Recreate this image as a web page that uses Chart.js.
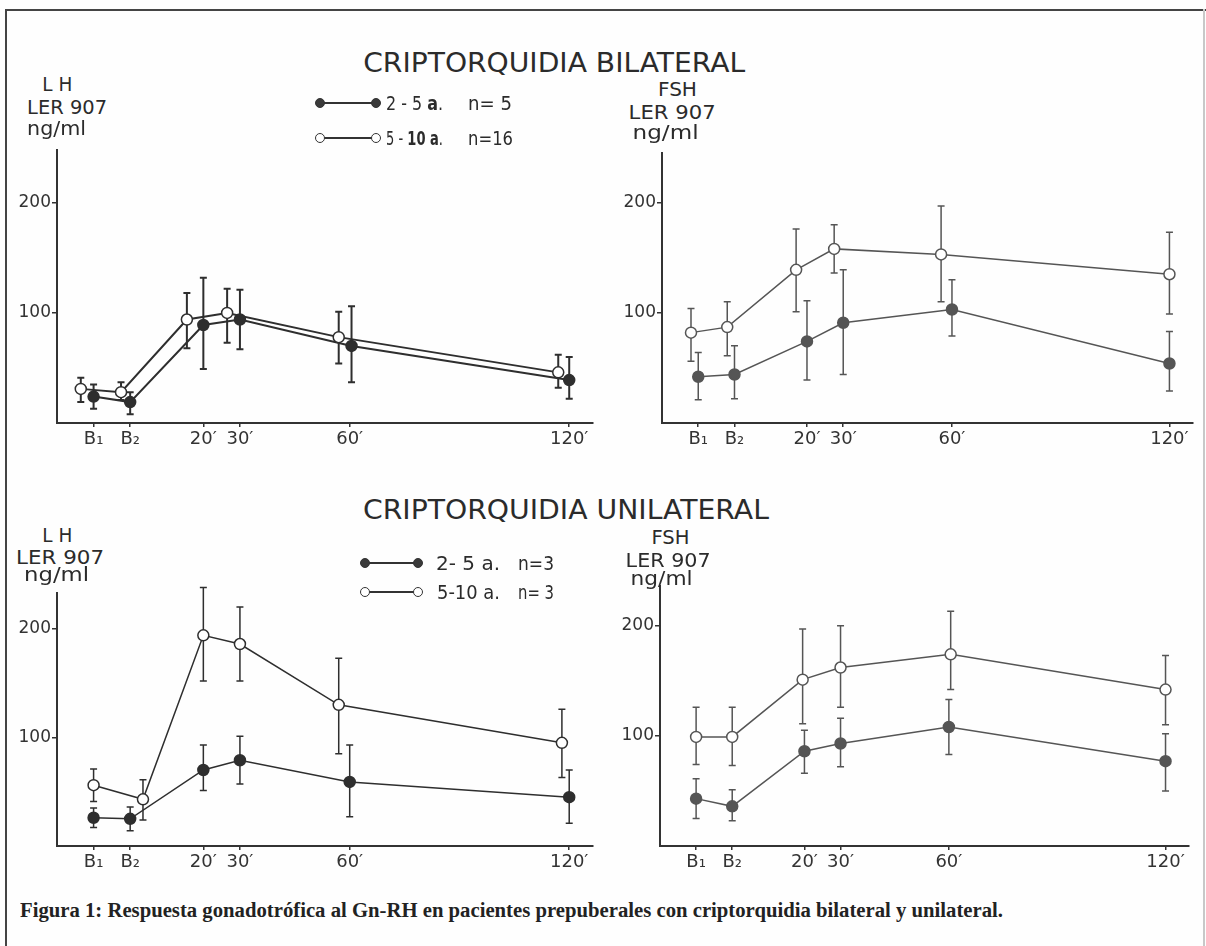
<!DOCTYPE html>
<html><head><meta charset="utf-8">
<script src="https://cdn.jsdelivr.net/npm/chart.js@4"></script>
<style>
html,body{margin:0;padding:0;background:#fff;}
#page{position:relative;width:1206px;height:946px;overflow:hidden;background:#fefefe;}
.t{position:absolute;white-space:nowrap;font-family:"DejaVu Sans",sans-serif;color:#2b2b2b;line-height:1;transform-origin:center center;}
canvas{position:absolute;}
.bar{position:absolute;}
</style></head>
<body><div id="page"></div>
<script>
// ---------- data ----------
const xTickValues = [-10, 0, 20, 30, 60, 120];
const xTickLabels = ['B\u2081', 'B\u2082', "20\u2032", "30\u2032", "60\u2032", "120\u2032"];
const yTickValues = [100, 200];

// LH bilateral
const lhBilYoungX  = [-10, 0, 20, 30, 60.5, 120];
const lhBilYoungY  = [24, 19, 89, 94, 70, 39];
const lhBilYoungHi = [35, 28, 132, 121, 106, 60];
const lhBilYoungLo = [13, 8, 49, 67, 37, 22];
const lhBilOldX    = [-13.5, -2.5, 15.5, 26.5, 57, 117];
const lhBilOldY    = [31, 28, 94, 100, 78, 46];
const lhBilOldHi   = [41, 37, 118, 122, 101, 62];
const lhBilOldLo   = [19, 21, 68, 73, 54, 32];

// FSH bilateral
const fshBilYoungX  = [-10, 0, 20, 30, 60, 120];
const fshBilYoungY  = [42, 44, 74, 91, 103, 54];
const fshBilYoungHi = [64, 70, 111, 139, 130, 83];
const fshBilYoungLo = [21, 22, 39, 44, 79, 29];
const fshBilOldX    = [-12, -2, 17, 27.5, 57, 120];
const fshBilOldY    = [82, 87, 139, 158, 153, 135];
const fshBilOldHi   = [104, 110, 176, 180, 197, 173];
const fshBilOldLo   = [56, 61, 101, 136, 110, 99];

// LH unilateral
const lhUniYoungX  = [-10, 0, 20, 30, 60, 120];
const lhUniYoungY  = [26, 25, 70, 79, 59, 45];
const lhUniYoungHi = [35, 36, 93, 101, 93, 70];
const lhUniYoungLo = [17, 14, 51, 57, 27, 21];
const lhUniOldX    = [-10, 3.5, 20, 30, 57, 118];
const lhUniOldY    = [56, 43, 194, 186, 130, 95];
const lhUniOldHi   = [71, 61, 238, 220, 173, 126];
const lhUniOldLo   = [41, 24, 152, 152, 85, 63];

// FSH unilateral
const fshUniYoungX  = [-10, 0, 20, 30, 60, 120];
const fshUniYoungY  = [43, 36, 86, 93, 108, 77];
const fshUniYoungHi = [61, 51, 105, 116, 133, 102];
const fshUniYoungLo = [25, 23, 66, 72, 83, 50];
const fshUniOldX    = [-10, 0, 19.5, 30, 60.5, 120];
const fshUniOldY    = [99, 99, 151, 162, 174, 142];
const fshUniOldHi   = [126, 126, 197, 200, 213, 173];
const fshUniOldLo   = [74, 73, 111, 126, 142, 110];

// ---------- helpers ----------
const page = document.getElementById('page');

function placeText(html, o) {
  const el = document.createElement('div');
  el.className = 't';
  el.innerHTML = html;
  el.style.fontSize = (o.size || 19) + 'px';
  if (o.family) el.style.fontFamily = o.family;
  if (o.weight) el.style.fontWeight = o.weight;
  if (o.color) el.style.color = o.color;
  page.appendChild(el);
  const r = el.getBoundingClientRect();
  const k = o.w ? o.w / r.width : 1;
  if (o.left !== undefined) {
    el.style.transformOrigin = 'left center';
    el.style.left = o.left + 'px';
  } else {
    el.style.left = (o.cx - r.width / 2) + 'px';
  }
  el.style.top = (o.cy - r.height / 2) + 'px';
  el.style.transform = 'scaleX(' + k + ')';
  return el;
}

function box(l, t, w, h, bg, extra) {
  const d = document.createElement('div');
  d.className = 'bar';
  d.style.left = l + 'px'; d.style.top = t + 'px';
  d.style.width = w + 'px'; d.style.height = h + 'px';
  d.style.background = bg;
  if (extra) Object.assign(d.style, extra);
  page.appendChild(d);
  return d;
}

function legendMarker(x1, x2, y, filled) {
  box(x1, y - 0.75, x2 - x1, 1.5, '#333');
  [x1, x2].forEach(x => {
    box(x - 5, y - 5, 10, 10, filled ? '#3a3a3a' : '#fff',
      { borderRadius: '50%', boxSizing: 'border-box', border: '1.4px solid #333' });
  });
}

const errorBarPlugin = {
  id: 'errbars',
  beforeDatasetsDraw(chart) {
    const ctx = chart.ctx, xs = chart.scales.x, ys = chart.scales.y;
    chart.data.datasets.forEach(ds => {
      ctx.save();
      ctx.strokeStyle = ds.borderColor;
      ctx.lineWidth = ds.errWidth;
      ds.data.forEach((p, i) => {
        const x = xs.getPixelForValue(p.x);
        const yh = ys.getPixelForValue(ds.errHi[i]);
        const yl = ys.getPixelForValue(ds.errLo[i]);
        ctx.beginPath();
        ctx.moveTo(x, yh); ctx.lineTo(x, yl);
        ctx.moveTo(x - 3.5, yh); ctx.lineTo(x + 3.5, yh);
        ctx.moveTo(x - 3.5, yl); ctx.lineTo(x + 3.5, yl);
        ctx.stroke();
      });
      ctx.restore();
    });
  }
};

function series(xs, ys, hi, lo, filled, color, lw) {
  return {
    data: xs.map((x, i) => ({ x: x, y: ys[i] })),
    errHi: hi, errLo: lo,
    borderColor: color,
    borderWidth: lw,
    errWidth: lw,
    pointRadius: 5.5,
    pointBorderWidth: 1.5,
    pointBackgroundColor: filled ? color : '#ffffff',
    pointBorderColor: color,
    fill: false,
    tension: 0,
    clip: false
  };
}

function makePanel(area, yMax, datasets) {
  const padL = 8, yW = 49, padT = 20, padR = 20, xH = 36, padB = 4;
  const w = area.right - area.left + padL + yW + padR;
  const h = area.bottom - area.top + padT + xH + padB;
  const c = document.createElement('canvas');
  c.width = w; c.height = h;
  c.style.left = (area.left - padL - yW) + 'px';
  c.style.top = (area.top - padT) + 'px';
  c.style.width = w + 'px'; c.style.height = h + 'px';
  page.appendChild(c);
  const axisColor = '#333';
  new Chart(c, {
    type: 'line',
    data: { datasets: datasets },
    options: {
      responsive: false, animation: false, devicePixelRatio: 1,
      layout: { padding: { left: padL, top: padT, right: padR, bottom: padB } },
      plugins: { legend: { display: false }, tooltip: { enabled: false } },
      scales: {
        x: {
          type: 'linear', min: -20, max: 126.5,
          afterBuildTicks: s => { s.ticks = xTickValues.map(v => ({ value: v })); },
          afterFit: s => { s.height = xH; },
          ticks: {
            callback: v => xTickLabels[xTickValues.indexOf(v)],
            font: { family: 'DejaVu Sans', size: 18 }, color: '#333',
            padding: 2, maxRotation: 0, autoSkip: false
          },
          grid: { drawOnChartArea: false, drawTicks: true, tickLength: 4, color: axisColor, lineWidth: 1.5 },
          border: { display: true, color: axisColor, width: 2 }
        },
        y: {
          min: 0, max: yMax,
          afterBuildTicks: s => { s.ticks = yTickValues.map(v => ({ value: v })); },
          afterFit: s => { s.width = yW; },
          ticks: { font: { family: 'DejaVu Sans', size: 17 }, color: '#333', padding: 1 },
          grid: { drawOnChartArea: false, drawTicks: true, tickLength: 5, color: axisColor, lineWidth: 1.5 },
          border: { display: true, color: axisColor, width: 2 }
        }
      }
    },
    plugins: [errorBarPlugin]
  });
}

// ---------- frame ----------
box(6, 9, 1200, 2, '#444');
box(5, 9, 2, 940, '#444');
box(1203, 9, 1.5, 940, '#c8c8c8');

// ---------- panels ----------
const dark = '#2e2e2e', gray = '#555';
makePanel({ left: 57, top: 150, right: 593, bottom: 423 }, 248, [
  series(lhBilOldX, lhBilOldY, lhBilOldHi, lhBilOldLo, false, dark, 2),
  series(lhBilYoungX, lhBilYoungY, lhBilYoungHi, lhBilYoungLo, true, dark, 2)
]);
makePanel({ left: 662, top: 153, right: 1193, bottom: 423 }, 245, [
  series(fshBilOldX, fshBilOldY, fshBilOldHi, fshBilOldLo, false, gray, 1.5),
  series(fshBilYoungX, fshBilYoungY, fshBilYoungHi, fshBilYoungLo, true, gray, 1.5)
]);
makePanel({ left: 57, top: 593, right: 593, bottom: 846 }, 233, [
  series(lhUniOldX, lhUniOldY, lhUniOldHi, lhUniOldLo, false, dark, 1.5),
  series(lhUniYoungX, lhUniYoungY, lhUniYoungHi, lhUniYoungLo, true, dark, 1.5)
]);
makePanel({ left: 660, top: 586, right: 1189, bottom: 846 }, 236, [
  series(fshUniOldX, fshUniOldY, fshUniOldHi, fshUniOldLo, false, gray, 1.5),
  series(fshUniYoungX, fshUniYoungY, fshUniYoungHi, fshUniYoungLo, true, gray, 1.5)
]);

// ---------- texts ----------
placeText('CRIPTORQUIDIA BILATERAL', { cx: 554, cy: 62, size: 27, w: 382 });
placeText('CRIPTORQUIDIA UNILATERAL', { cx: 566, cy: 509, size: 27, w: 406 });

// axis titles
placeText('L H', { cx: 57, cy: 84, size: 20, w: 30 });
placeText('LER 907', { cx: 67, cy: 107, size: 20, w: 80 });
placeText('ng/ml', { cx: 57, cy: 128, size: 20, w: 59 });

placeText('FSH', { cx: 677, cy: 89, size: 20, w: 39 });
placeText('LER 907', { cx: 672, cy: 112, size: 20, w: 87 });
placeText('ng/ml', { cx: 666, cy: 132, size: 20, w: 66 });

placeText('L H', { cx: 57, cy: 535, size: 20, w: 30 });
placeText('LER 907', { cx: 60, cy: 557, size: 20, w: 88 });
placeText('ng/ml', { cx: 57, cy: 574, size: 20, w: 65 });

placeText('FSH', { cx: 670, cy: 537, size: 20, w: 38 });
placeText('LER 907', { cx: 668, cy: 560, size: 20, w: 85 });
placeText('ng/ml', { cx: 662, cy: 578, size: 20, w: 62 });

// legends
legendMarker(320, 376, 103, true);
legendMarker(320, 376, 138, false);
placeText('2 - 5 <b>a</b>.', { left: 386, cy: 103, size: 19, w: 57 });
placeText('n= 5', { left: 468, cy: 103, size: 19, w: 44 });
placeText('5 - <b>10 a</b>.', { left: 386, cy: 138, size: 19, w: 57 });
placeText('n=16', { left: 468, cy: 138, size: 19, w: 45 });

legendMarker(365, 418, 563, true);
legendMarker(365, 418, 592, false);
placeText('2- 5 a.', { left: 436, cy: 563, size: 19, w: 64 });
placeText('n=3', { left: 518, cy: 563, size: 19, w: 36 });
placeText('5-10 a.', { left: 437, cy: 592, size: 19, w: 63 });
placeText('n= 3', { left: 518, cy: 592, size: 19, w: 36 });

// caption
placeText('Figura 1: Respuesta gonadotrófica al Gn-RH en pacientes prepuberales con criptorquidia bilateral y unilateral.',
  { left: 20, cy: 910, size: 20, w: 983, family: '"Liberation Serif", "Times New Roman", serif', weight: 'bold', color: '#222' });
</script>
</body></html>
